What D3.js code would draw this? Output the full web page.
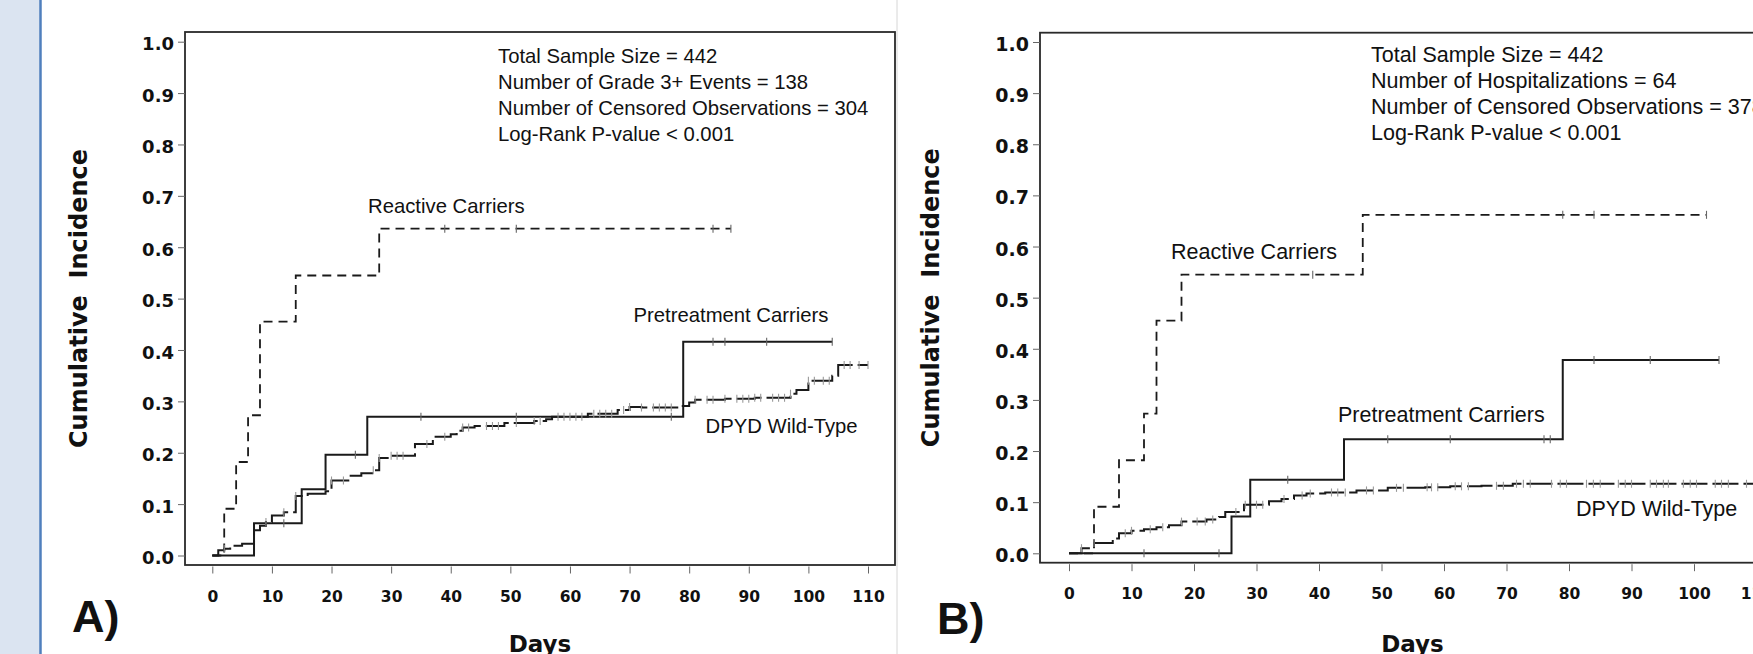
<!DOCTYPE html>
<html>
<head>
<meta charset="utf-8">
<script src="https://d3js.org/d3.v7.min.js"></script>
<style>
body { margin: 0; background: #fff; overflow: hidden; }
svg { display: block; }
.stat, .lab { font-family: "Liberation Sans", Arial, sans-serif; fill: #111; }
.ytick text { font-family: "DejaVu Sans", sans-serif; font-weight: bold; fill: #111; }
.xtick text { font-family: "DejaVu Sans", sans-serif; font-weight: bold; font-size: 15.5px; fill: #111; }
.ytitle, .xtitle { font-family: "DejaVu Sans", sans-serif; font-weight: bold; fill: #111; white-space: pre; }
.letter { font-family: "Liberation Sans", Arial, sans-serif; font-weight: bold; font-size: 45px; fill: #111; }
</style>
</head>
<body>
<svg id="chart" width="1753" height="654"></svg>
<script>

// axis ticks
var xTicks = [0, 10, 20, 30, 40, 50, 60, 70, 80, 90, 100, 110];
var yTicks = [0, 0.1, 0.2, 0.3, 0.4, 0.5, 0.6, 0.7, 0.8, 0.9, 1.0];

// ---- panel A : grade 3+ toxicity ----
var reactiveA_days = [0, 2, 4, 6, 8, 14, 28, 87];
var reactiveA_inc  = [0, 0.091, 0.182, 0.273, 0.455, 0.545, 0.636, 0.636];
var reactiveA_cens = [39, 51, 84, 87];

var pretreatA_days = [0, 7, 15, 19, 26, 79, 104];
var pretreatA_inc  = [0, 0.063, 0.129, 0.196, 0.270, 0.416, 0.416];
var pretreatA_cens = [12, 24, 35, 51, 77, 84, 86, 93, 104];

var wildA_days = [0, 1, 2, 3, 5, 7, 8, 9, 10, 12, 14, 16, 19, 20, 23, 25, 27, 28, 30, 34, 37, 40, 41, 42, 44, 49, 54, 56, 57, 63, 68, 70, 72, 78, 80, 81, 86, 91, 97, 98, 100, 104, 105, 110];
var wildA_inc  = [0, 0.010, 0.013, 0.019, 0.023, 0.049, 0.058, 0.065, 0.078, 0.084, 0.116, 0.120, 0.125, 0.146, 0.155, 0.160, 0.166, 0.190, 0.194, 0.217, 0.231, 0.236, 0.243, 0.249, 0.252, 0.258, 0.262, 0.265, 0.270, 0.276, 0.283, 0.289, 0.288, 0.291, 0.298, 0.303, 0.305, 0.307, 0.315, 0.322, 0.340, 0.350, 0.371, 0.371];
var wildA_cens = [2, 9, 12, 14, 20, 22, 27, 28, 30, 31, 32, 36, 39, 42, 43, 46, 47, 48, 51, 54, 55, 58, 59, 60, 61, 62, 64, 65, 66, 67, 69, 70, 72, 74, 75, 76, 77, 81, 83, 84, 86, 88, 89, 90, 91, 92, 94, 95, 96, 97, 100, 101, 102.5, 103.5, 106, 107, 108.5, 110];

var statsA = ["Total Sample Size = 442", "Number of Grade 3+ Events = 138", "Number of Censored Observations = 304", "Log-Rank P-value < 0.001"];

// ---- panel B : hospitalization ----
var reactiveB_days = [0, 4, 8, 12, 14, 18, 47, 102];
var reactiveB_inc  = [0, 0.091, 0.182, 0.273, 0.455, 0.545, 0.662, 0.662];
var reactiveB_cens = [39, 79, 84, 102];

var pretreatB_days = [0, 26, 29, 44, 79, 104];
var pretreatB_inc  = [0, 0.072, 0.144, 0.223, 0.378, 0.378];
var pretreatB_cens = [12, 24, 35, 51, 61, 76, 77, 84, 93, 104];

var wildB_days = [0, 2, 4, 7, 8, 10, 12, 14, 16, 18, 22, 24, 25, 28, 32, 34, 36, 38, 41, 46, 51, 57, 61, 66, 71, 110];
var wildB_inc  = [0, 0.010, 0.020, 0.029, 0.039, 0.044, 0.047, 0.051, 0.055, 0.062, 0.066, 0.071, 0.081, 0.095, 0.102, 0.106, 0.113, 0.117, 0.119, 0.123, 0.128, 0.129, 0.131, 0.132, 0.136, 0.136];
var wildB_cens = [2, 4, 9, 10, 13, 15, 18, 20.5, 21.8, 23, 26.7, 28.2, 30, 31, 34.4, 37.3, 38.6, 42, 43, 44.2, 47.6, 48.7, 52.4, 53.5, 57.3, 58, 59, 61.8, 62.8, 63.9, 68.4, 69.5, 71.6, 72.7, 73.8, 77.2, 78.6, 79.6, 82.8, 83.9, 85, 87.9, 89, 90, 93, 94, 95.1, 95.9, 98.3, 99.4, 100.4, 103.4, 104.4, 105.5, 108.4];

var statsB = ["Total Sample Size = 442", "Number of Hospitalizations = 64", "Number of Censored Observations = 378", "Log-Rank P-value < 0.001"];

var svg = d3.select("#chart");

// blue side strip + panel divider
svg.append("rect").attr("x", 0).attr("y", 0).attr("width", 40).attr("height", 654).attr("fill", "#dbe4f1");
svg.append("line").attr("x1", 40.5).attr("x2", 40.5).attr("y1", 0).attr("y2", 654).attr("stroke", "#4f7fbd").attr("stroke-width", 2.5);
svg.append("line").attr("x1", 897).attr("x2", 897).attr("y1", 0).attr("y2", 654).attr("stroke", "#d6d6d6").attr("stroke-width", 1);

function stepValue(days, inc, d){
    var i = d3.bisectRight(days, d) - 1;
    if (i < 0) i = 0;
    return inc[i];
}

function drawPanel(p){
    var g = svg.append("g");
    var x = d3.scaleLinear().domain([0, 110]).range(p.xr);
    var y = d3.scaleLinear().domain([0, 1]).range(p.yr);

    // frame
    g.append("rect")
        .attr("x", p.frame[0]).attr("y", p.frame[1])
        .attr("width", p.frame[2] - p.frame[0]).attr("height", p.frame[3] - p.frame[1])
        .attr("fill", "none").attr("stroke", "#2a2a2a").attr("stroke-width", 1.8);

    // y axis
    var ya = g.append("g").attr("class", "ytick")
        .attr("transform", "translate(" + p.frame[0] + ",0)")
        .call(d3.axisLeft(y).tickValues(yTicks).tickFormat(d3.format(".1f")).tickSize(7).tickPadding(4));
    ya.select(".domain").remove();
    ya.selectAll("line").attr("stroke", "#666");
    ya.selectAll("text").attr("dy", "0.45em").style("font-size", p.ytickSize + "px");

    // x axis
    var xa = g.append("g").attr("class", "xtick")
        .attr("transform", "translate(0," + (p.frame[3] + 1.5) + ")")
        .call(d3.axisBottom(x).tickValues(xTicks).tickSize(7));
    xa.select(".domain").remove();
    xa.selectAll("line").attr("stroke", "#666");
    xa.selectAll("text").attr("y", p.xlabY).attr("dy", 0);

    var line = d3.line()
        .x(function(d){ return x(d[0]); })
        .y(function(d){ return y(d[1]); })
        .curve(d3.curveStepAfter);

    p.series.forEach(function(s){
        var pts = s.days.map(function(d, i){ return [d, s.inc[i]]; });
        g.append("path").datum(pts)
            .attr("d", line)
            .attr("fill", "none")
            .attr("stroke", "#1a1a1a")
            .attr("stroke-width", s.width)
            .attr("stroke-dasharray", s.dash);
        // censor marks
        g.selectAll(null).data(s.cens).enter().append("line")
            .attr("x1", function(d){ return x(d); })
            .attr("x2", function(d){ return x(d); })
            .attr("y1", function(d){ return y(stepValue(s.days, s.inc, d)) - 4; })
            .attr("y2", function(d){ return y(stepValue(s.days, s.inc, d)) + 4; })
            .attr("stroke", s.censColor)
            .attr("stroke-width", 1.1);
    });

    // stats block
    g.selectAll(null).data(p.stats).enter().append("text")
        .attr("class", "stat")
        .attr("x", p.statX)
        .attr("y", function(d, i){ return p.statY + i * 26.2; })
        .style("font-size", p.textSize + "px")
        .text(function(d){ return d; });

    // curve labels
    p.labels.forEach(function(l){
        g.append("text").attr("class", "lab").attr("x", l[1]).attr("y", l[2])
            .style("font-size", p.textSize + "px").text(l[0]);
    });

    // axis titles
    g.append("text").attr("class", "ytitle")
        .attr("transform", "translate(" + p.ytitleX + "," + ((p.frame[1] + p.frame[3]) / 2) + ") rotate(-90)")
        .attr("text-anchor", "middle")
        .style("font-size", "24px")
        .text("Cumulative  Incidence");
    g.append("text").attr("class", "xtitle")
        .attr("x", (p.frame[0] + p.frame[2]) / 2).attr("y", 652)
        .attr("text-anchor", "middle")
        .style("font-size", "23px")
        .text("Days");

    g.append("text").attr("class", "letter").attr("x", p.letterX).attr("y", p.letterY).text(p.letter);
}

drawPanel({
    xr: [212.3, 868], yr: [555.5, 41.7],
    frame: [185, 32, 895, 565],
    xlabY: 35, ytickSize: 18, textSize: 20.3,
    series: [
        {days: reactiveA_days, inc: reactiveA_inc, cens: reactiveA_cens, dash: "9,6", width: 1.8, censColor: "#666"},
        {days: pretreatA_days, inc: pretreatA_inc, cens: pretreatA_cens, dash: null, width: 2, censColor: "#666"},
        {days: wildA_days, inc: wildA_inc, cens: wildA_cens, dash: "26,5", width: 2, censColor: "#999"}
    ],
    stats: statsA, statX: 498, statY: 62.5,
    labels: [["Reactive Carriers", 368, 212.7], ["Pretreatment Carriers", 633.5, 321.7], ["DPYD Wild-Type", 705.5, 433]],
    ytitleX: 86.5,
    letter: "A)", letterX: 72, letterY: 632
});

drawPanel({
    xr: [1069, 1756.5], yr: [553.3, 42],
    frame: [1040, 32.7, 1785, 562.7],
    xlabY: 35, ytickSize: 19, textSize: 21.5,
    series: [
        {days: reactiveB_days, inc: reactiveB_inc, cens: reactiveB_cens, dash: "9,6", width: 1.8, censColor: "#666"},
        {days: pretreatB_days, inc: pretreatB_inc, cens: pretreatB_cens, dash: null, width: 2, censColor: "#666"},
        {days: wildB_days, inc: wildB_inc, cens: wildB_cens, dash: "26,5", width: 2, censColor: "#999"}
    ],
    stats: statsB, statX: 1371, statY: 61.5,
    labels: [["Reactive Carriers", 1171, 259], ["Pretreatment Carriers", 1338, 421.5], ["DPYD Wild-Type", 1576, 516]],
    ytitleX: 938.5,
    letter: "B)", letterX: 937, letterY: 633.5
});

</script>
</body>
</html>
